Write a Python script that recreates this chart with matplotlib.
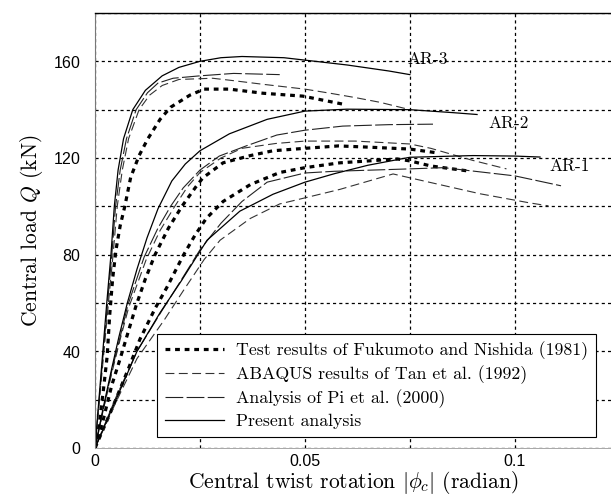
import matplotlib
matplotlib.use("Agg")
import matplotlib.pyplot as plt
from matplotlib.ticker import MultipleLocator

plt.rcParams['font.family'] = ['cmr10', 'DejaVu Serif']
plt.rcParams['mathtext.fontset'] = 'cm'
plt.rcParams['axes.unicode_minus'] = False
plt.rcParams['axes.formatter.use_mathtext'] = True

# ---- data: twist rotation (rad) vs central load Q (kN)
# AR-3
ar3_test_x = [0, 0.001, 0.002, 0.0029, 0.0035, 0.0042, 0.005, 0.006, 0.0071, 0.0085, 0.0105, 0.0126, 0.0155, 0.018, 0.0226, 0.026, 0.032, 0.04, 0.0495, 0.059]
ar3_test_q = [0, 10, 24, 38, 55, 70, 82, 92, 100, 112, 121, 128, 136, 141, 146, 148.5, 148.5, 146.8, 145.6, 142.3]
ar3_abaqus_x = [0, 0.0016, 0.0032, 0.0043, 0.0053, 0.0065, 0.008, 0.0105, 0.013, 0.016, 0.02, 0.028, 0.033, 0.04, 0.05, 0.056, 0.062, 0.068, 0.075]
ar3_abaqus_q = [0, 30, 60, 80, 100, 115, 128, 140, 146, 150, 152.5, 153, 152, 150.5, 148.5, 146.8, 145, 143, 140]
ar3_pi_x = [0, 0.0015, 0.003, 0.004, 0.0049, 0.006, 0.0075, 0.0098, 0.0125, 0.015, 0.0186, 0.025, 0.033, 0.044]
ar3_pi_q = [0, 30, 60, 80, 100, 115, 128, 140, 147, 151, 153, 154, 155, 154.5]
ar3_present_x = [0, 0.0014, 0.0028, 0.0038, 0.0046, 0.0055, 0.0068, 0.009, 0.012, 0.016, 0.02, 0.025, 0.03, 0.035, 0.045, 0.05, 0.06, 0.07, 0.075]
ar3_present_q = [0, 30, 60, 80, 100, 115, 128, 140, 148, 154, 157.5, 160, 161.5, 162, 161.5, 160.5, 158.5, 156, 154.5]

# AR-2
ar2_test_x = [0, 0.002, 0.004, 0.006, 0.0079, 0.0098, 0.012, 0.0143, 0.0175, 0.0207, 0.024, 0.0257, 0.0305, 0.037, 0.0424, 0.05, 0.058, 0.065, 0.075, 0.082]
ar2_test_q = [0, 12, 26, 37, 48, 59, 70, 80, 91, 100, 108, 111.8, 118, 121, 123, 124, 125, 124.5, 123.7, 122]
ar2_abaqus_x = [0, 0.002, 0.004, 0.006, 0.008, 0.0122, 0.0155, 0.019, 0.022, 0.025, 0.03, 0.035, 0.043, 0.05, 0.062, 0.075, 0.08, 0.09, 0.098]
ar2_abaqus_q = [0, 16, 31, 45, 58, 78, 90, 100, 108, 114, 120, 124, 126, 127, 127, 125.8, 124, 119, 115.5]
ar2_pi_x = [0, 0.002, 0.004, 0.006, 0.0078, 0.0117, 0.015, 0.018, 0.021, 0.025, 0.0296, 0.036, 0.0433, 0.05, 0.059, 0.07, 0.0805]
ar2_pi_q = [0, 16, 32, 46, 59, 79, 91, 100, 107.6, 115, 120.8, 125, 129.5, 131.5, 133.2, 133.8, 134]
ar2_present_x = [0, 0.002, 0.004, 0.0057, 0.0077, 0.01, 0.0124, 0.015, 0.0183, 0.0215, 0.025, 0.032, 0.041, 0.05, 0.06, 0.075, 0.085, 0.091]
ar2_present_q = [0, 17, 33, 46, 60, 74, 87, 99, 110.5, 117.5, 123, 130, 136, 139.4, 140.2, 140, 138.8, 138]

# AR-1
ar1_test_x = [0, 0.004, 0.008, 0.0107, 0.0143, 0.0171, 0.021, 0.0238, 0.0265, 0.0305, 0.037, 0.044, 0.05, 0.0583, 0.072, 0.075, 0.08, 0.089]
ar1_test_q = [0, 16, 33, 45, 57.7, 66.4, 79.6, 88, 95, 102, 109, 114, 116, 118, 119.6, 118.8, 116.7, 114.6]
ar1_abaqus_x = [0, 0.005, 0.01, 0.0165, 0.021, 0.026, 0.0298, 0.037, 0.044, 0.05, 0.0583, 0.071, 0.075, 0.0917, 0.1036, 0.108]
ar1_abaqus_q = [0, 19, 37, 53, 65, 78, 86, 95, 101, 103.5, 107, 113.4, 111.8, 105.2, 101.4, 100.2]
ar1_pi_x = [0, 0.005, 0.01, 0.016, 0.02, 0.025, 0.03, 0.035, 0.041, 0.05, 0.057, 0.075, 0.083, 0.1, 0.111]
ar1_pi_q = [0, 21, 40, 57, 68, 82, 93, 102, 110, 113.8, 114.5, 115.5, 116, 112.6, 108.5]
ar1_present_x = [0, 0.005, 0.01, 0.0155, 0.0205, 0.0245, 0.0267, 0.0345, 0.0424, 0.05, 0.057, 0.065, 0.075, 0.09, 0.1, 0.106]
ar1_present_q = [0, 20, 40, 56, 69, 80, 86, 98, 105, 110, 113.5, 117, 120.3, 121, 120.8, 120.4]

group_labels = ["AR-3", "AR-2", "AR-1"]
label_x = [0.0743, 0.0938, 0.1083]
label_q = [160.8, 134.5, 116.7]

legend_names = ["Test results of Fukumoto and Nishida (1981)",
                "ABAQUS results of Tan et al. (1992)",
                "Analysis of Pi et al. (2000)",
                "Present analysis"]

fig = plt.figure(figsize=(6.11, 5.0), dpi=100)
ax = fig.add_axes([95 / 611, 52 / 500, 516 / 611, 435 / 500])

test_style = dict(color="black", lw=2.3, dashes=(1.5, 1.5))
abaqus_style = dict(color="#333333", lw=0.8, dashes=(8, 4))
pi_style = dict(color="#222222", lw=0.8, dashes=(16, 3))
present_style = dict(color="black", lw=0.9)

groups = [
    (ar3_test_x, ar3_test_q, ar3_abaqus_x, ar3_abaqus_q, ar3_pi_x, ar3_pi_q, ar3_present_x, ar3_present_q),
    (ar2_test_x, ar2_test_q, ar2_abaqus_x, ar2_abaqus_q, ar2_pi_x, ar2_pi_q, ar2_present_x, ar2_present_q),
    (ar1_test_x, ar1_test_q, ar1_abaqus_x, ar1_abaqus_q, ar1_pi_x, ar1_pi_q, ar1_present_x, ar1_present_q),
]

for i, g in enumerate(groups):
    lab = legend_names if i == 0 else [None] * 4
    ax.plot(g[0], g[1], label=lab[0], **test_style)
    ax.plot(g[2], g[3], label=lab[1], **abaqus_style)
    ax.plot(g[4], g[5], label=lab[2], **pi_style)
    ax.plot(g[6], g[7], label=lab[3], **present_style)

for t, x, q in zip(group_labels, label_x, label_q):
    ax.text(x, q, t, fontsize=12.5, va="center", ha="left")

ax.set_xlim(0, 0.1229)
ax.set_ylim(0, 180)
ax.xaxis.set_major_locator(MultipleLocator(0.05))
ax.xaxis.set_minor_locator(MultipleLocator(0.025))
ax.yaxis.set_major_locator(MultipleLocator(40))
ax.yaxis.set_minor_locator(MultipleLocator(20))
ax.set_xticks([0, 0.05, 0.1])
ax.set_xticklabels(["0", "0.05", "0.1"])
ax.grid(True, which="both", color="black", lw=0.9, linestyle=(0, (2.5, 2.5)))
ax.tick_params(which="both", length=0, pad=10)
for lbl in ax.get_xticklabels() + ax.get_yticklabels():
    lbl.set_family("Liberation Sans")
    lbl.set_fontsize(11.5)
ax.tick_params(axis="x", pad=4)

ax.spines["top"].set_linewidth(1.0)
ax.spines["left"].set_color("#777777")
ax.spines["left"].set_linewidth(0.8)
ax.spines["bottom"].set_color("#999999")
ax.spines["bottom"].set_linewidth(0.6)
ax.spines["right"].set_visible(False)

ax.set_xlabel(r"Central twist rotation $|\phi_c|$ (radian)", fontsize=15.5, labelpad=0)
ax.set_ylabel(r"Central load $Q$ (kN)", fontsize=15.5, labelpad=6)

leg = ax.legend(loc="lower left", bbox_to_anchor=(0.12, 0.025), fontsize=12.8,
                frameon=True, fancybox=False, edgecolor="black", framealpha=1,
                handlelength=3.3, labelspacing=0.3, borderpad=0.45, handletextpad=0.7,
                borderaxespad=0)
leg.get_frame().set_linewidth(0.8)

fig.savefig("out.png", dpi=100)
